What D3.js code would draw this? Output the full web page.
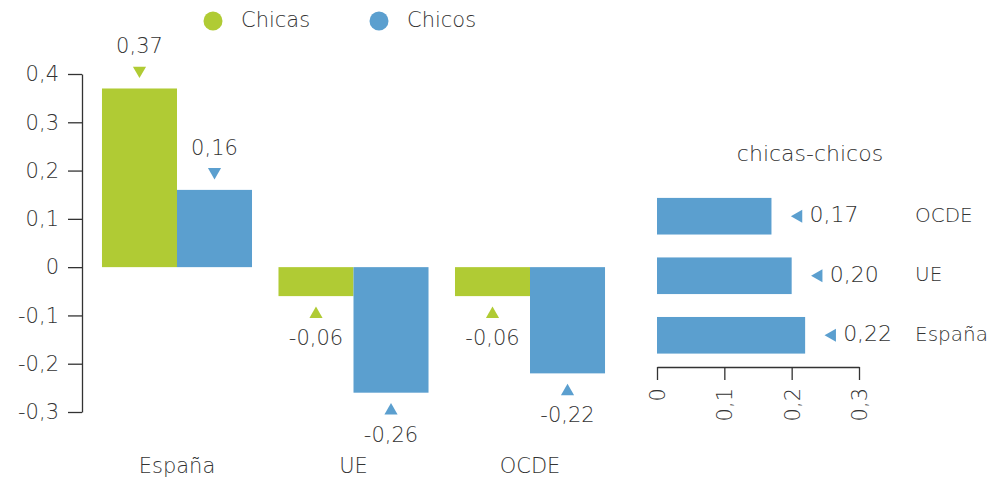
<!DOCTYPE html>
<html>
<head>
<meta charset="utf-8">
<script src="https://cdn.jsdelivr.net/npm/d3@7"></script>
<style>
  body { margin: 0; background: #fff; }
  svg text { font-family: "DejaVu Sans", sans-serif; font-weight: 200; fill: #333; }
  .axis path, .axis line { stroke: #333; stroke-width: 1.3; }
</style>
</head>
<body>
<div id="content"></div>
<script>
// data
const categories = ["España", "UE", "OCDE"];
const series = ["Chicas", "Chicos"];
const chicas = [0.37, -0.06, -0.06];
const chicos = [0.16, -0.26, -0.22];
const yTicks = [-0.3, -0.2, -0.1, 0, 0.1, 0.2, 0.3, 0.4];

const diffCats = ["OCDE", "UE", "España"];
const diffVals = [0.17, 0.20, 0.22];
const xTicks = [0, 0.1, 0.2, 0.3];

const colors = { Chicas: "#b0cb34", Chicos: "#5b9fcf" };

const W = 991, H = 482;
const FS = "21px";
const loc = d3.formatLocale({ decimal: ",", thousands: ".", grouping: [3], currency: ["", "€"], minus: "-" });
const fTick = d => d === 0 ? "0" : loc.format(".1f")(d);
const fVal = loc.format(".2f");

const svg = d3.select("#content").append("svg")
    .attr("width", W).attr("height", H);

//////////////////// left chart
const y = d3.scaleLinear().domain([-0.3, 0.4]).range([412, 74]);
const xGroup = d3.scaleBand().domain(categories)
    .range([75.5, 631.5]).paddingInner(0.15).paddingOuter(0.15);
const xSub = d3.scaleBand().domain(series).range([0, xGroup.bandwidth()]);

const yAxis = svg.append("g").attr("class", "axis")
    .attr("transform", "translate(82,0)")
    .call(d3.axisLeft(y).tickValues(yTicks).tickFormat(fTick).tickSize(14).tickSizeOuter(0).tickPadding(9));
yAxis.selectAll("text").style("font-size", FS).attr("fill", "#333");

const rows = categories.map((c, i) => ({ cat: c, vals: [
    { s: "Chicas", v: chicas[i] }, { s: "Chicos", v: chicos[i] }] }));

const groups = svg.selectAll(".grp").data(rows).enter()
    .append("g").attr("class", "grp")
    .attr("transform", d => "translate(" + xGroup(d.cat) + ",0)");

groups.selectAll("rect").data(d => d.vals).enter()
    .append("rect")
    .attr("x", d => xSub(d.s))
    .attr("width", xSub.bandwidth())
    .attr("y", d => y(Math.max(0, d.v)))
    .attr("height", d => Math.abs(y(d.v) - y(0)))
    .attr("fill", d => colors[d.s]);

// triangle markers + value labels
const tri = d3.symbol().type(d3.symbolTriangle).size(75);
groups.selectAll(".mark").data(d => d.vals).enter()
    .append("path").attr("class", "mark")
    .attr("d", tri)
    .attr("fill", d => colors[d.s])
    .attr("transform", d => {
        const cx = xSub(d.s) + xSub.bandwidth() / 2;
        const cy = d.v >= 0 ? y(d.v) - 18 : y(d.v) + 18;
        return "translate(" + cx + "," + cy + ")" + (d.v >= 0 ? " rotate(180)" : "");
    });

groups.selectAll(".val").data(d => d.vals).enter()
    .append("text").attr("class", "val")
    .attr("x", d => xSub(d.s) + xSub.bandwidth() / 2)
    .attr("y", d => d.v >= 0 ? y(d.v) - 41 : y(d.v) + 43)
    .attr("text-anchor", "middle")
    .attr("dominant-baseline", "middle")
    .style("font-size", FS)
    .text(d => fVal(d.v));

// category labels
svg.selectAll(".cat").data(categories).enter()
    .append("text").attr("class", "cat")
    .attr("x", d => xGroup(d) + xGroup.bandwidth() / 2)
    .attr("y", 467)
    .attr("text-anchor", "middle")
    .attr("dominant-baseline", "middle")
    .style("font-size", FS)
    .text(d => d);

// legend
const legend = svg.selectAll(".leg").data(series).enter()
    .append("g").attr("class", "leg")
    .attr("transform", (d, i) => "translate(" + (213 + i * 166) + ",21)");
legend.append("circle").attr("r", 9.5).attr("fill", d => colors[d]);
legend.append("text").attr("x", 28).attr("dominant-baseline", "middle")
    .style("font-size", FS).text(d => d);

//////////////////// right chart: chicas-chicos
const x2 = d3.scaleLinear().domain([0, 0.3]).range([657, 859]);
const y2 = d3.scaleBand().domain(diffCats).range([186, 365.5])
    .paddingInner(0.385).paddingOuter(0.2);

svg.append("text")
    .attr("x", 810).attr("y", 155)
    .attr("text-anchor", "middle").attr("dominant-baseline", "middle")
    .style("font-size", "22px").text("chicas-chicos");

svg.selectAll(".dbar").data(diffCats).enter()
    .append("rect").attr("class", "dbar")
    .attr("x", x2(0))
    .attr("y", d => y2(d))
    .attr("width", (d, i) => x2(diffVals[i]) - x2(0))
    .attr("height", y2.bandwidth())
    .attr("fill", colors.Chicos);

svg.selectAll(".dmark").data(diffCats).enter()
    .append("path").attr("class", "dmark")
    .attr("d", tri)
    .attr("fill", colors.Chicos)
    .attr("transform", (d, i) => "translate(" + (x2(diffVals[i]) + 27) + "," + (y2(d) + y2.bandwidth() / 2) + ") rotate(-90)");

svg.selectAll(".dval").data(diffCats).enter()
    .append("text").attr("class", "dval")
    .attr("x", (d, i) => x2(diffVals[i]) + 38)
    .attr("y", d => y2(d) + y2.bandwidth() / 2)
    .attr("dominant-baseline", "middle")
    .style("font-size", "22px")
    .text((d, i) => fVal(diffVals[i]));

svg.selectAll(".dcat").data(diffCats).enter()
    .append("text").attr("class", "dcat")
    .attr("x", 915)
    .attr("y", d => y2(d) + y2.bandwidth() / 2)
    .attr("dominant-baseline", "middle")
    .style("font-size", "20px")
    .text(d => d);

const xAxis = svg.append("g").attr("class", "axis")
    .attr("transform", "translate(0,367)")
    .call(d3.axisBottom(x2).tickValues(xTicks).tickFormat(fTick).tickSize(13).tickSizeOuter(0).tickPadding(8));
xAxis.selectAll("text")
    .style("font-size", FS)
    .attr("fill", "#333")
    .attr("transform", "rotate(-90)")
    .attr("text-anchor", "end")
    .attr("dy", "0.35em")
    .attr("x", -21)
    .attr("y", 0);
</script>
</body>
</html>
